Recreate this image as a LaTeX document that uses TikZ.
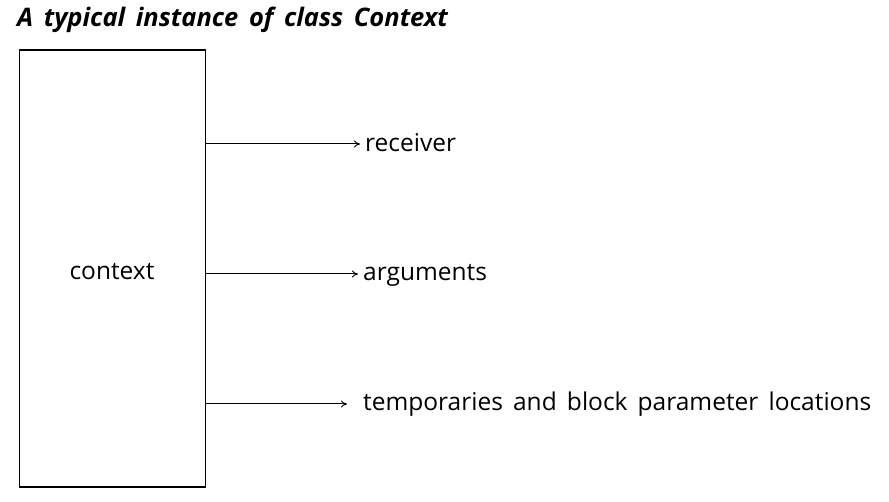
\documentclass[tikz,border=0pt]{standalone}
\usepackage{fontspec}
\setmainfont{Open Sans}[WordSpace=1.6]
\usetikzlibrary{arrows.meta}
\begin{document}
\begin{tikzpicture}[x=1pt,y=-1pt,
  label/.style={anchor=base west, inner sep=0pt, font=\fontsize{24.5}{28}\selectfont},
  link/.style={-{To[length=6pt,width=7pt]}, line width=1pt}]
\useasboundingbox (0,0) rectangle (889,502);
\node [anchor=base west, inner sep=0pt, font=\fontsize{25.5}{30}\selectfont\bfseries\itshape] (title) at (17,27) {A typical instance of class Context};
\node [draw=black, line width=1.4pt, minimum width=186pt, minimum height=437pt, inner sep=0pt] (ctx) at (112.5,268.5) {};
\node [anchor=base, inner sep=0pt, font=\fontsize{24.5}{28}\selectfont] (ctxlabel) at (112,280) {context};
\node [label] (recv) at (365,152) {receiver};
\node [label] (args) at (363,281) {arguments};
\node [label] (temps) at (363,411) {temporaries and block parameter locations};
\coordinate (r0) at (ctx.east |- 0,144);
\coordinate (a0) at (ctx.east |- 0,274);
\coordinate (t0) at (ctx.east |- 0,404);
\draw [link, shorten >=5pt] (r0) -- (recv.west |- r0);
\draw [link, shorten >=5pt] (a0) -- (args.west |- a0);
\draw [link, shorten >=16pt] (t0) -- (temps.west |- t0);
\end{tikzpicture}
\end{document}
